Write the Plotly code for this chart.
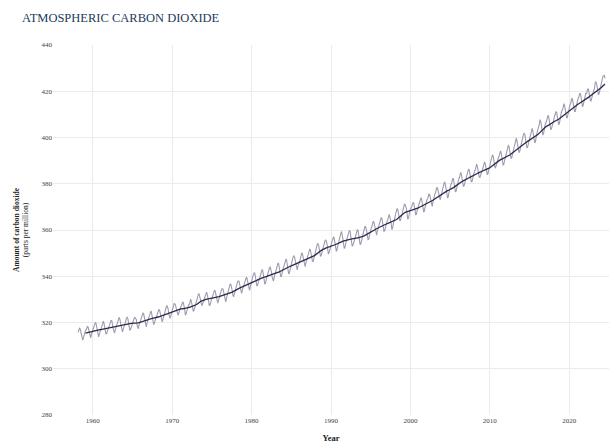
import pandas as pd
import plotly.graph_objects as go

# Monthly mean CO2 at Mauna Loa (ppm), March 1958 - July 2024
start = "1958-03-01"
co2_ppm = [
    315.70, 317.45, 317.51, 317.24, 315.86, 314.93, 313.20, 312.43, 313.33, 314.67,  # 1958 (Mar-Dec)
    315.58, 316.48, 316.65, 317.72, 318.29, 318.15, 316.54, 314.80, 313.84, 313.33, 314.81, 315.58,  # 1959
    316.43, 316.98, 317.58, 319.03, 320.04, 319.59, 318.18, 315.90, 314.17, 313.83, 315.00, 316.19,  # 1960
    316.89, 317.70, 318.54, 319.48, 320.58, 319.77, 318.57, 316.79, 314.99, 315.31, 316.10, 317.01,  # 1961
    317.94, 318.55, 319.68, 320.57, 321.02, 320.62, 319.61, 317.40, 316.25, 315.42, 316.69, 317.70,  # 1962
    318.74, 319.07, 319.86, 321.38, 322.25, 321.48, 319.74, 317.77, 316.21, 315.99, 317.07, 318.35,  # 1963
    319.57, 320.01, 320.74, 321.84, 322.26, 321.89, 320.44, 318.69, 316.70, 316.87, 317.68, 318.71,  # 1964
    319.44, 320.44, 320.89, 322.14, 322.17, 321.87, 321.21, 318.87, 317.81, 317.30, 318.87, 319.42,  # 1965
    320.62, 321.60, 322.39, 323.70, 324.08, 323.75, 322.38, 320.36, 318.64, 318.10, 319.78, 321.03,  # 1966
    322.33, 322.50, 323.04, 324.42, 325.00, 324.09, 322.54, 320.92, 319.25, 319.39, 320.73, 321.96,  # 1967
    322.57, 323.15, 323.89, 325.02, 325.57, 325.36, 324.14, 322.11, 320.33, 320.25, 321.32, 322.89,  # 1968
    324.00, 324.42, 325.63, 326.66, 327.38, 326.71, 325.88, 323.66, 322.38, 321.78, 322.86, 324.12,  # 1969
    325.06, 325.98, 326.93, 328.13, 328.08, 327.67, 326.34, 324.69, 323.10, 323.06, 324.01, 325.13,  # 1970
    326.17, 326.68, 327.17, 327.79, 328.93, 328.57, 327.36, 325.43, 323.36, 323.56, 324.80, 326.01,  # 1971
    326.77, 327.63, 327.75, 329.72, 330.07, 329.09, 328.04, 326.32, 324.84, 325.20, 326.50, 327.55,  # 1972
    328.55, 329.56, 330.30, 331.50, 332.48, 332.07, 330.87, 329.31, 327.51, 327.18, 328.16, 328.64,  # 1973
    329.35, 330.71, 331.48, 332.65, 333.09, 332.25, 331.18, 329.39, 327.43, 327.37, 328.46, 329.57,  # 1974
    330.40, 331.40, 332.04, 333.31, 333.97, 333.60, 331.90, 330.06, 328.56, 328.34, 329.49, 330.76,  # 1975
    331.75, 332.56, 333.50, 334.58, 334.57, 334.34, 333.05, 330.94, 329.30, 328.94, 330.31, 331.68,  # 1976
    332.93, 333.42, 334.70, 336.07, 336.75, 336.27, 334.92, 332.75, 331.59, 331.16, 332.40, 333.85,  # 1977
    334.97, 335.38, 336.64, 337.76, 338.01, 337.89, 336.54, 334.68, 332.76, 332.55, 333.92, 334.95,  # 1978
    336.23, 336.76, 337.96, 338.88, 339.47, 339.29, 337.73, 336.09, 333.92, 333.86, 335.29, 336.73,  # 1979
    338.01, 338.36, 340.07, 340.77, 341.47, 341.17, 339.56, 337.60, 335.88, 336.02, 337.10, 338.21,  # 1980
    339.24, 340.48, 341.38, 342.51, 342.91, 342.25, 340.49, 338.43, 336.69, 336.86, 338.36, 339.61,  # 1981
    340.75, 341.61, 342.70, 343.57, 344.14, 343.35, 342.06, 339.81, 337.98, 337.86, 339.26, 340.49,  # 1982
    341.38, 342.52, 343.10, 344.94, 345.76, 345.32, 343.98, 342.38, 339.87, 339.99, 341.15, 342.99,  # 1983
    343.70, 344.51, 345.28, 347.06, 347.43, 346.80, 345.39, 343.28, 341.07, 341.35, 342.98, 344.22,  # 1984
    344.97, 345.99, 347.42, 348.35, 348.93, 348.25, 346.56, 344.67, 343.09, 342.80, 344.24, 345.56,  # 1985
    346.30, 346.95, 347.85, 349.55, 350.21, 349.55, 347.94, 345.90, 344.85, 344.17, 345.66, 346.90,  # 1986
    348.02, 348.47, 349.42, 350.99, 351.84, 351.25, 349.52, 348.10, 346.44, 346.36, 347.81, 348.96,  # 1987
    350.43, 351.72, 352.22, 353.59, 354.22, 353.79, 352.39, 350.44, 348.72, 348.88, 350.07, 351.34,  # 1988
    352.76, 353.07, 353.68, 355.42, 355.67, 355.12, 353.90, 351.67, 349.80, 349.99, 351.30, 352.53,  # 1989
    353.66, 354.70, 355.39, 356.20, 357.16, 356.22, 354.82, 352.91, 350.96, 351.18, 352.83, 354.21,  # 1990
    354.72, 355.75, 357.16, 358.60, 359.34, 358.24, 356.17, 354.03, 352.16, 352.21, 353.75, 354.99,  # 1991
    355.99, 356.72, 357.81, 359.15, 359.66, 359.25, 357.02, 355.00, 353.01, 353.31, 354.16, 355.40,  # 1992
    356.70, 357.17, 358.38, 359.46, 360.28, 359.60, 357.57, 355.52, 353.69, 353.99, 355.34, 356.80,  # 1993
    358.37, 358.91, 359.97, 361.26, 361.69, 360.94, 359.55, 357.49, 355.84, 356.00, 357.58, 359.04,  # 1994
    359.97, 361.00, 361.64, 363.45, 363.79, 363.26, 361.90, 359.46, 358.06, 357.75, 359.56, 360.70,  # 1995
    362.05, 363.25, 364.03, 364.72, 365.41, 364.97, 363.65, 361.48, 359.45, 359.61, 360.76, 362.33,  # 1996
    363.18, 364.00, 364.57, 366.35, 366.79, 365.62, 364.47, 362.51, 360.19, 360.77, 362.43, 364.28,  # 1997
    365.33, 366.15, 367.31, 368.61, 369.30, 368.88, 367.64, 365.78, 363.90, 364.23, 365.46, 366.97,  # 1998
    368.15, 368.87, 369.59, 371.14, 371.00, 370.35, 369.27, 366.94, 364.63, 365.12, 366.67, 368.01,  # 1999
    369.14, 369.46, 370.52, 371.66, 371.82, 371.70, 370.12, 368.12, 366.62, 366.73, 368.29, 369.53,  # 2000
    370.28, 371.50, 372.12, 372.87, 374.02, 373.30, 371.62, 369.55, 367.96, 368.09, 369.68, 371.24,  # 2001
    372.44, 373.08, 373.52, 374.85, 375.55, 375.40, 374.02, 371.48, 370.70, 370.25, 372.08, 373.78,  # 2002
    374.68, 375.62, 376.11, 377.65, 378.35, 378.13, 376.61, 374.48, 372.98, 373.00, 374.35, 375.69,  # 2003
    376.79, 377.36, 378.39, 380.50, 380.62, 379.55, 377.76, 375.83, 374.05, 374.22, 375.84, 377.44,  # 2004
    378.34, 379.61, 380.08, 382.05, 382.24, 382.08, 380.67, 378.67, 376.42, 376.80, 378.31, 379.96,  # 2005
    381.37, 382.02, 382.56, 384.37, 384.92, 384.03, 382.28, 380.48, 378.81, 379.06, 380.14, 381.66,  # 2006
    382.58, 383.71, 384.34, 386.23, 386.41, 385.87, 384.45, 381.84, 380.86, 380.86, 382.36, 383.61,  # 2007
    385.07, 385.72, 385.85, 386.71, 388.45, 387.64, 386.10, 383.95, 382.91, 382.73, 383.96, 385.02,  # 2008
    386.26, 386.39, 387.16, 388.59, 389.47, 388.77, 387.41, 385.79, 384.04, 384.20, 385.64, 386.99,  # 2009
    388.40, 389.44, 389.98, 391.52, 392.48, 392.05, 390.30, 388.45, 386.75, 387.19, 388.54, 389.61,  # 2010
    390.91, 391.33, 391.86, 393.15, 394.14, 393.67, 392.18, 389.86, 388.12, 388.27, 389.66, 390.91,  # 2011
    392.08, 393.04, 394.27, 395.95, 396.75, 395.91, 394.18, 392.31, 390.93, 391.19, 392.67, 393.85,  # 2012
    395.33, 396.43, 397.17, 398.32, 399.76, 398.52, 397.29, 395.28, 393.54, 393.73, 395.20, 396.62,  # 2013
    397.64, 398.03, 399.95, 401.52, 401.79, 401.24, 399.08, 397.06, 395.55, 395.80, 397.11, 398.81,  # 2014
    399.93, 400.40, 401.59, 403.36, 403.90, 402.80, 401.62, 399.09, 397.63, 398.29, 400.16, 401.85,  # 2015
    402.50, 404.04, 404.83, 407.42, 407.70, 406.81, 404.39, 402.25, 401.03, 401.57, 403.53, 404.42,  # 2016
    406.13, 406.42, 407.18, 409.00, 409.65, 408.84, 407.07, 405.07, 403.38, 403.64, 405.14, 406.82,  # 2017
    407.96, 408.32, 409.41, 410.24, 411.24, 410.79, 408.71, 406.99, 405.51, 405.95, 408.02, 409.07,  # 2018
    410.83, 411.75, 411.97, 413.32, 414.66, 413.92, 411.77, 409.95, 408.54, 408.53, 410.27, 411.76,  # 2019
    413.40, 414.11, 414.51, 416.21, 417.07, 416.39, 414.38, 412.55, 411.29, 411.28, 412.89, 413.89,  # 2020
    415.15, 416.47, 417.16, 418.24, 419.05, 418.97, 416.70, 414.47, 413.30, 413.93, 415.01, 416.71,  # 2021
    418.19, 419.28, 418.81, 420.23, 420.99, 420.99, 418.90, 417.19, 415.95, 415.78, 417.51, 418.95,  # 2022
    419.47, 420.41, 420.99, 423.36, 424.00, 423.68, 421.83, 419.68, 418.51, 418.82, 420.46, 421.86,  # 2023
    422.80, 424.55, 425.38, 426.57, 426.90, 426.91, 425.55,                                          # 2024 (Jan-Jul)
]

y_ticks = [280, 300, 320, 340, 360, 380, 400, 420, 440]
x_tick_years = [1960, 1970, 1980, 1990, 2000, 2010, 2020]

dates = pd.date_range(start=start, periods=len(co2_ppm), freq="MS")
series = pd.Series(co2_ppm, index=dates)
trend = series.rolling(12).mean()

serif = "Liberation Serif, Times New Roman, serif"

fig = go.Figure()
fig.add_trace(go.Scatter(
    x=dates, y=series.values, mode="lines", name="Monthly average",
    line=dict(color="#9c9cad", width=1.1),
))
fig.add_trace(go.Scatter(
    x=dates, y=trend.values, mode="lines", name="12-month average",
    line=dict(color="#2a2a4e", width=1.3),
))

fig.update_layout(
    width=610, height=445,
    margin=dict(l=53, r=1, t=45, b=30),
    paper_bgcolor="white", plot_bgcolor="white",
    showlegend=False,
    title=dict(
        text="ATMOSPHERIC CARBON DIOXIDE",
        x=22 / 610, xref="container", xanchor="left",
        y=1 - 18 / 445, yref="container", yanchor="middle",
        font=dict(family=serif, size=12.5, color="#1d3a5c"),
    ),
    font=dict(family=serif, color="#333333"),
)
fig.update_xaxes(
    type="date",
    range=["1955-01-01", "2025-01-01"],
    tickvals=[f"{y}-01-01" for y in x_tick_years],
    ticktext=[str(y) for y in x_tick_years],
    tickfont=dict(family=serif, size=7, color="#444444"),
    showgrid=True, gridcolor="#ebebeb", gridwidth=1,
    zeroline=False, showline=False, ticks="",
    title=dict(text="<b>Year</b>", font=dict(family=serif, size=8.5, color="#222222"), standoff=11),
)
fig.update_yaxes(
    range=[280, 440],
    tickvals=y_ticks,
    tickfont=dict(family=serif, size=7, color="#444444"),
    showgrid=True, gridcolor="#ebebeb", gridwidth=1,
    zeroline=False, showline=False, ticks="",
    title=dict(
        text="<b>Amount of carbon dioxide</b><br>(parts per million)",
        font=dict(family=serif, size=7.5, color="#222222"), standoff=11,
    ),
)

fig.write_html(
    "out.html",
    config={"displayModeBar": False},
    post_script="document.body.style.margin='0';document.body.style.overflow='hidden';",
)
